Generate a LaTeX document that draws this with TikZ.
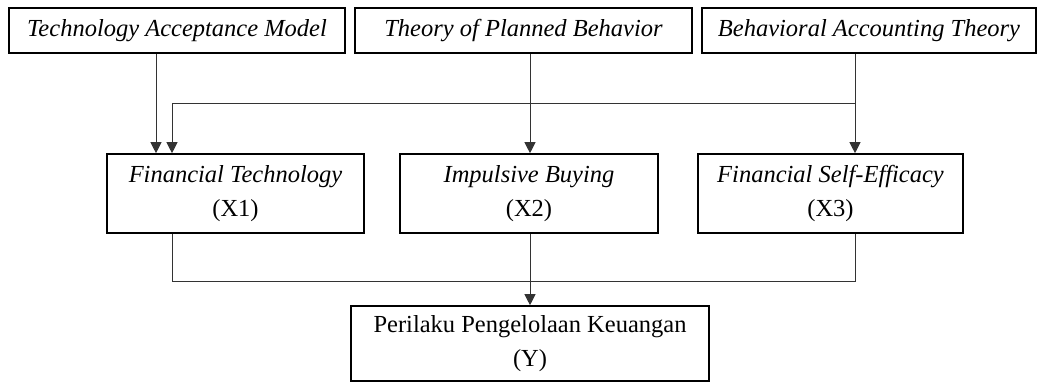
\documentclass[tikz,border=0pt]{standalone}
\usepackage{fontspec}
\setmainfont{Liberation Serif}
\usetikzlibrary{arrows.meta}
\begin{document}
\begin{tikzpicture}[x=1pt,y=-1pt,
  box/.style={draw=black,line width=1.6pt,inner sep=0pt,align=center,
    font=\fontsize{24.5}{33.5}\selectfont},
  conn/.style={draw=black!80,line width=1pt},
  arr/.style={conn,-{Triangle[length=11pt,width=11pt]}}]
\useasboundingbox (0,0) rectangle (1038,382);
% top boxes
\node[box,minimum width=336pt,minimum height=45pt] (tam) at (177,30.5) {\textit{Technology Acceptance Model}};
\node[box,minimum width=337pt,minimum height=45pt] (tpb) at (523.5,30.5) {\textit{Theory of Planned Behavior}};
\node[box,minimum width=334pt,minimum height=45pt] (bat) at (869,30.5) {\textit{Behavioral Accounting Theory}};
% middle boxes
\node[box,minimum width=257pt,minimum height=79pt] (ft) at (235.5,193.5) {\raisebox{-3pt}{\textit{Financial Technology}}\\\raisebox{-3pt}{(X1)}};
\node[box,minimum width=258pt,minimum height=79pt] (ib) at (529,193.5) {\raisebox{-3pt}{\textit{Impulsive Buying}}\\\raisebox{-3pt}{(X2)}};
\node[box,minimum width=265pt,minimum height=79pt] (fse) at (830.5,193.5) {\raisebox{-3pt}{\textit{Financial Self-Efficacy}}\\\raisebox{-3pt}{(X3)}};
% bottom box
\node[box,minimum width=358pt,minimum height=75pt] (y) at (530,343.5) {Perilaku Pengelolaan Keuangan\\(Y)};
% helper coordinates
\coordinate (xa) at (156,0);
\coordinate (xb) at (172,0);
\coordinate (xc) at (530,0);
\coordinate (xd) at (855,0);
\coordinate (hu) at (0,104);
\coordinate (hl) at (0,281);
\coordinate (j1) at (xd |- hu);
\coordinate (j2) at (xb |- hl);
\coordinate (j3) at (xd |- hl);
% connectors top
\draw[arr] (tam.south -| xa) -- (ft.north -| xa);
\draw[arr] (tpb.south -| xc) -- (ib.north -| xc);
\draw[arr] (bat.south -| xd) -- (fse.north -| xd);
\draw[arr] (j1) -- (xb |- hu) -- (ft.north -| xb);
% connectors bottom
\draw[conn] (ft.south -| xb) -- (j2) -- (j3) -- (fse.south -| xd);
\draw[arr] (ib.south -| xc) -- (y.north -| xc);
\end{tikzpicture}
\end{document}
